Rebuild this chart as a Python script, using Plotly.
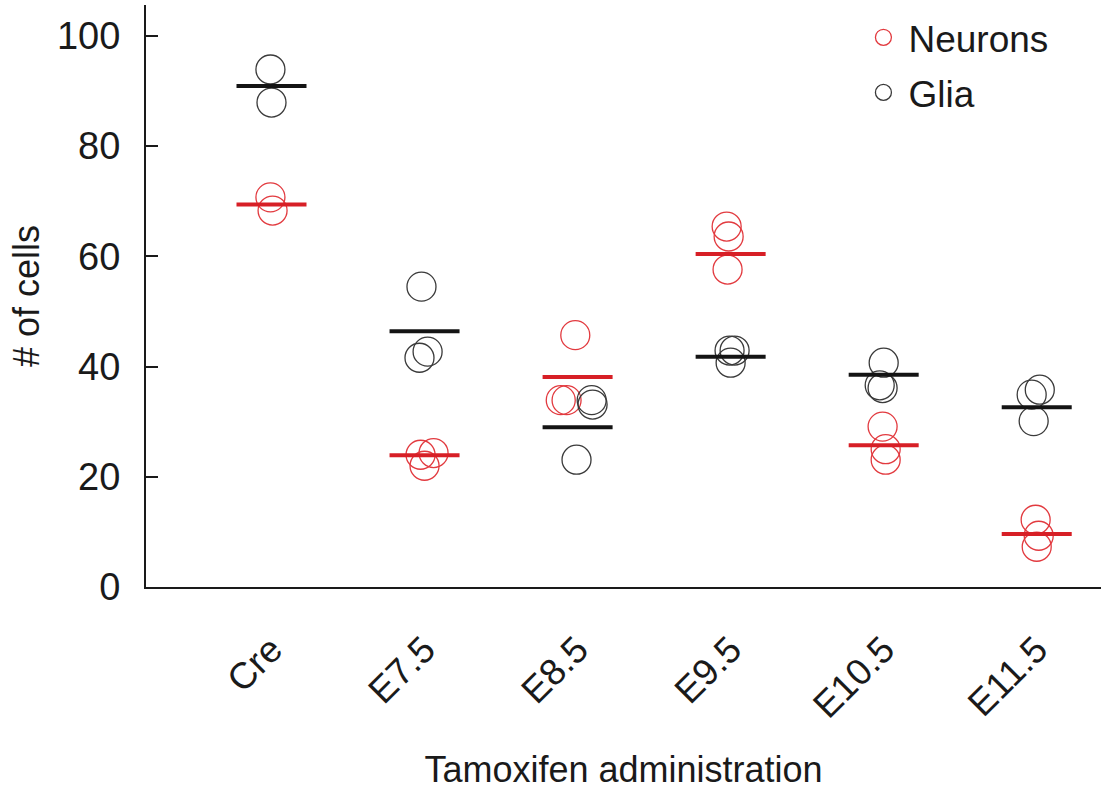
import plotly.graph_objects as go

# ---------------- data ----------------
categories = ["Cre", "E7.5", "E8.5", "E9.5", "E10.5", "E11.5"]

neurons_vals = [
    [70.7, 68.3],
    [24.0, 24.3, 22.0],
    [45.7, 33.9, 33.9],
    [65.4, 63.6, 57.6],
    [29.1, 25.0, 23.1],
    [12.2, 9.3, 7.3],
]
glia_vals = [
    [93.9, 87.9],
    [54.5, 41.6, 42.7],
    [33.9, 33.1, 23.1],
    [42.9, 42.9, 40.7],
    [40.7, 36.6, 36.1],
    [34.9, 35.8, 30.1],
]
neurons_mean = [69.4, 23.9, 38.1, 60.4, 25.7, 9.6]
glia_mean = [90.9, 46.4, 29.0, 41.8, 38.5, 32.6]

y_ticks = [0, 20, 40, 60, 80, 100]

# horizontal jitter of the individual points (fraction of category spacing)
neurons_jitter = [
    [-0.007, 0.007],
    [-0.026, 0.059, 0.0],
    [-0.015, -0.11, -0.072],
    [-0.026, -0.013, -0.02],
    [-0.007, 0.013, 0.013],
    [-0.007, 0.013, 0.0],
]
glia_jitter = [
    [-0.007, 0.0],
    [-0.02, -0.033, 0.02],
    [0.092, 0.098, -0.007],
    [-0.007, 0.026, 0.0],
    [0.0, -0.026, -0.007],
    [-0.033, 0.02, -0.02],
]

# ---------------- build ----------------
def flatten(vals, jit):
    xs, ys = [], []
    for i, (vv, jj) in enumerate(zip(vals, jit)):
        for v, j in zip(vv, jj):
            xs.append(i + j)
            ys.append(v)
    return xs, ys

cat_pos = list(range(len(categories)))
RED_C = "#e23a3f"
RED_M = "#d71f26"
BLK_C = "#3a3a3a"
BLK_M = "#141414"
FONT = "Liberation Sans, Arial, Helvetica, sans-serif"
TXT = "#1a1a1a"

nx, ny = flatten(neurons_vals, neurons_jitter)
gx, gy = flatten(glia_vals, glia_jitter)

fig = go.Figure()
fig.add_trace(go.Scatter(
    x=nx, y=ny, mode="markers", name="Neurons", legendgroup="n",
    marker=dict(symbol="circle-open", size=29, color=RED_C, line=dict(width=1.3, color=RED_C)),
))
fig.add_trace(go.Scatter(
    x=gx, y=gy, mode="markers", name="Glia", legendgroup="g",
    marker=dict(symbol="circle-open", size=29, color=BLK_C, line=dict(width=1.3, color=BLK_C)),
))
fig.add_trace(go.Scatter(
    x=cat_pos, y=neurons_mean, mode="markers", showlegend=False, name="Neurons mean",
    marker=dict(symbol="line-ew", size=50, color=RED_M, line=dict(width=4, color=RED_M)),
))
fig.add_trace(go.Scatter(
    x=cat_pos, y=glia_mean, mode="markers", showlegend=False, name="Glia mean",
    marker=dict(symbol="line-ew", size=50, color=BLK_M, line=dict(width=4, color=BLK_M)),
))

fig.update_layout(
    width=1101, height=790,
    margin=dict(l=146, r=0, t=5, b=203),
    paper_bgcolor="white", plot_bgcolor="white",
    font=dict(family=FONT, color=TXT, size=36),
    showlegend=True,
    legend=dict(
        x=0.746, y=0.997, xanchor="left", yanchor="top",
        font=dict(size=37, family=FONT, color=TXT),
        bgcolor="rgba(0,0,0,0)", borderwidth=0,
        tracegroupgap=4, itemwidth=40,
    ),
    xaxis=dict(
        range=[-0.82, 5.42],
        tickmode="array", tickvals=cat_pos, ticktext=categories,
        tickangle=-45, ticks="", ticklabelstandoff=24,
        tickfont=dict(size=37, family=FONT, color=TXT),
        showline=True, linecolor="#1a1a1a", linewidth=2,
        showgrid=False, zeroline=False,
        title=dict(text="Tamoxifen administration", font=dict(size=36, family=FONT, color=TXT), standoff=42),
        automargin=False,
    ),
    yaxis=dict(
        range=[0, 105.6],
        tickmode="array", tickvals=y_ticks,
        ticks="inside", ticklen=12, tickwidth=2, tickcolor="#1a1a1a",
        ticklabelstandoff=16,
        tickfont=dict(size=38, family=FONT, color=TXT),
        showline=True, linecolor="#1a1a1a", linewidth=2,
        showgrid=False, zeroline=False,
        title=dict(text="# of cells", font=dict(size=36, family=FONT, color=TXT), standoff=6),
        automargin=False,
    ),
)

fig.write_html("out.html")
